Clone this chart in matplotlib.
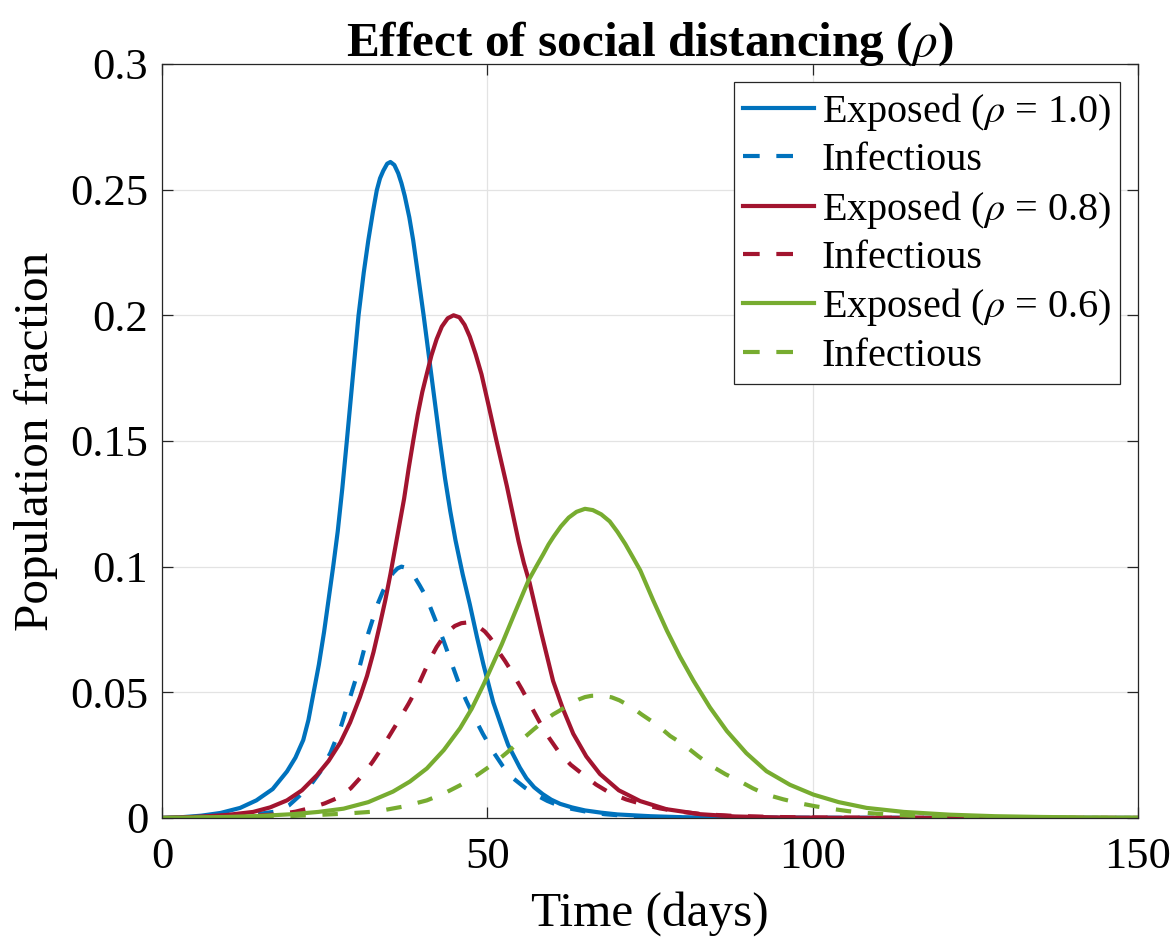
import matplotlib
matplotlib.use("Agg")
import matplotlib.pyplot as plt

plt.rcParams["font.family"] = ["Liberation Serif", "DejaVu Serif"]
plt.rcParams["mathtext.fontset"] = "stix"

# exposed / infectious fractions per social-distancing level (time in days)
t_e10 = [0, 3, 6, 9, 12, 14.5, 17, 19.2, 20.5, 21.7, 22.5, 23.3, 24.1, 24.9, 25.6, 26.3,
         27.0, 27.7, 28.4, 29.3, 30.2, 31.0, 31.7, 32.4, 33.0, 33.5, 34.0, 34.6, 35.1, 35.7,
         36.3, 36.8, 37.3, 38.0, 38.6, 39.4, 40.2, 41.0, 41.8, 42.7, 43.5, 44.3, 45.1, 46.2,
         47.3, 48.4, 49.4, 50.2, 50.9, 51.7, 52.5, 53.2, 54.0, 55.0, 56.0, 57.2, 58.5, 59.8,
         61.2, 63, 65, 67.5, 70, 75, 80, 85, 90, 100, 150]
e10 = [0, 0.0003, 0.0009, 0.002, 0.004, 0.007, 0.0115, 0.0185, 0.024, 0.031, 0.039, 0.05,
       0.061, 0.074, 0.087, 0.1, 0.114, 0.131, 0.15, 0.175, 0.2, 0.217, 0.2298, 0.241, 0.2497,
       0.2545, 0.2575, 0.2603, 0.261, 0.2598, 0.2565, 0.2525, 0.2475, 0.239, 0.2298, 0.215,
       0.2, 0.184, 0.168, 0.15, 0.135, 0.122, 0.1105, 0.097, 0.085, 0.072, 0.061, 0.053,
       0.046, 0.04, 0.034, 0.029, 0.025, 0.02, 0.0158, 0.0122, 0.0095, 0.0073, 0.0056,
       0.0042, 0.003, 0.0021, 0.0014, 0.0007, 0.0003, 0.00015, 0.0001, 0, 0]

t_i10 = [0, 5, 10, 14, 17.6, 19.5, 21.2, 22.8, 24.3, 25.9, 27.4, 28.9, 30.4, 31.7, 32.5,
         33.2, 34.0, 34.8, 35.5, 36.2, 36.8, 37.5, 38.2, 38.9, 39.6, 40.3, 41.2, 42.2, 43.2,
         44.3, 45.5, 46.7, 47.8, 49.3, 50.9, 52.4, 54.0, 55.8, 57.6, 59.2, 60.9, 63, 65, 68,
         71, 75, 80, 90, 150]
i10 = [0, 0.0002, 0.0006, 0.0013, 0.0026, 0.005, 0.009, 0.013, 0.0183, 0.026, 0.0356, 0.048,
       0.0605, 0.0735, 0.08, 0.0855, 0.0905, 0.0945, 0.0975, 0.0993, 0.1, 0.0995, 0.0978,
       0.0955, 0.0925, 0.0893, 0.084, 0.0775, 0.071, 0.063, 0.0544, 0.047, 0.041, 0.0335,
       0.0263, 0.0205, 0.0157, 0.012, 0.009, 0.0068, 0.005, 0.0036, 0.0026, 0.0015, 0.0009,
       0.0005, 0.0002, 0.0001, 0]

t_e08 = [0, 4, 7, 10, 14, 16.6, 19.2, 21.5, 23.8, 25.6, 27.4, 28.9, 30.4, 31.5, 32.5, 33.4,
         34.3, 35.1, 35.8, 36.5, 37.2, 37.9, 38.6, 39.3, 40.0, 40.7, 41.4, 42.2, 43.0, 43.9,
         44.8, 45.7, 46.5, 47.3, 48.2, 49.1, 50.2, 51.4, 52.2, 53.0, 53.9, 54.8, 55.6, 56.5,
         57.4, 58.3, 59.2, 60.1, 61.6, 63.2, 65.2, 67.3, 70.2, 73.5, 77.5, 82.7, 88, 95, 105,
         150]
e08 = [0, 0.0003, 0.0007, 0.0012, 0.0024, 0.0042, 0.007, 0.011, 0.017, 0.0227, 0.030, 0.038,
       0.048, 0.0565, 0.066, 0.076, 0.0865, 0.097, 0.107, 0.117, 0.127, 0.139, 0.15, 0.1605,
       0.1695, 0.1768, 0.184, 0.1905, 0.1955, 0.1988, 0.2, 0.1992, 0.1962, 0.1915, 0.1845,
       0.1765, 0.164, 0.15, 0.141, 0.132, 0.121, 0.11, 0.1015, 0.0935, 0.0835, 0.0735,
       0.064, 0.0545, 0.0435, 0.0335, 0.0245, 0.0175, 0.011, 0.0067, 0.0035, 0.0015, 0.0006,
       0.0002, 0.00005, 0]

t_i08 = [0, 5, 10, 14, 18, 20.5, 22.7, 25, 27.0, 29.0, 31.0, 32.4, 33.8, 35.2, 36.6, 37.9,
         39.1, 40.2, 41.2, 42.2, 43.2, 44.1, 45.0, 46.0, 47.0, 47.9, 48.7, 49.6, 50.4, 51.2,
         51.9, 52.7, 53.5, 54.4, 55.3, 56.7, 58.1, 59.5, 61.0, 62.8, 64.7, 66.7, 68.8, 71.3,
         74.0, 76.5, 79.1, 83, 88, 94, 100, 110, 150]
i08 = [0, 0.0001, 0.0003, 0.0008, 0.0015, 0.0025, 0.0039, 0.0058, 0.008, 0.0118, 0.0175,
       0.0225, 0.0279, 0.0338, 0.0398, 0.0455, 0.0512, 0.0575, 0.0632, 0.068, 0.0718,
       0.0745, 0.0764, 0.0775, 0.0778, 0.0772, 0.076, 0.0742, 0.0718, 0.0688, 0.0655,
       0.0625, 0.0592, 0.0552, 0.0512, 0.0445, 0.0378, 0.0318, 0.0262, 0.0212, 0.0173,
       0.0133, 0.010, 0.0074, 0.0053, 0.0038, 0.0027, 0.0015, 0.0008, 0.0004, 0.0002, 0.0001,
       0]

t_e06 = [0, 5, 10, 15, 20, 24, 27.9, 31.7, 35.5, 38.1, 40.7, 43.3, 45.8, 47.6, 49.4, 50.8,
         52.2, 54.2, 56.3, 57.5, 58.6, 59.4, 60.2, 61.3, 62.5, 63.7, 65.0, 66.2, 67.5, 68.8,
         70.0, 71.2, 72.3, 73.5, 75.5, 77.6, 79.6, 81.7, 84.2, 86.8, 89.8, 92.9, 96.5, 100.1,
         104, 108.3, 114, 121.1, 128, 135, 142, 150]
e06 = [0, 0.0002, 0.0004, 0.0008, 0.0015, 0.0024, 0.0037, 0.0063, 0.0105, 0.0145, 0.0197,
       0.027, 0.0357, 0.0435, 0.053, 0.061, 0.069, 0.0815, 0.0944, 0.1, 0.105, 0.1088, 0.112,
       0.116, 0.1195, 0.1218, 0.123, 0.1225, 0.1208, 0.118, 0.1138, 0.109, 0.104, 0.0985,
       0.0865, 0.0745, 0.0642, 0.0545, 0.044, 0.0346, 0.0258, 0.0186, 0.0132, 0.0093, 0.0063,
       0.004, 0.0024, 0.0013, 0.0007, 0.0004, 0.0002, 0.0001]

t_i06 = [0, 5, 10, 15, 20, 24, 28, 33, 37, 40.7, 43.3, 45.8, 48.4, 50.9, 53.0, 55.0, 57.1,
         58.6, 60.1, 61.1, 62.0, 63.0, 64.0, 65.0, 66.0, 67.5, 69.1, 70.3, 71.4, 72.6, 73.7,
         76.0, 78.1, 80.1, 82.4, 84.5, 86.6, 88.8, 90.8, 92.9, 95.5, 98.1, 100.5, 103, 105.5,
         108.3, 111.5, 115, 120, 125, 135, 150]
i06 = [0, 0.0001, 0.0002, 0.0004, 0.0008, 0.0012, 0.0017, 0.0026, 0.0045, 0.007, 0.0097,
       0.013, 0.017, 0.0215, 0.026, 0.0305, 0.0352, 0.0384, 0.0412, 0.0427, 0.0442, 0.0458,
       0.0471, 0.0481, 0.0486, 0.0487, 0.048, 0.0468, 0.0452, 0.0433, 0.0412, 0.0372, 0.0326,
       0.0293, 0.0246, 0.0206, 0.0174, 0.0146, 0.0118, 0.0093, 0.0074, 0.0058, 0.0046,
       0.0036, 0.0027, 0.002, 0.0014, 0.0009, 0.0005, 0.0003, 0.0001, 0]

rho_labels = ["1.0", "0.8", "0.6"]
colors = ["#0072BD", "#A2142F", "#77AC30"]

fig = plt.figure(figsize=(11.76, 9.39), dpi=100)
ax = fig.add_axes([0.1378, 0.1289, 0.8299, 0.8030])

series = [(t_e10, e10, t_i10, i10), (t_e08, e08, t_i08, i08), (t_e06, e06, t_i06, i06)]
for (te, e, ti, inf), rho, c in zip(series, rho_labels, colors):
    ax.plot(te, e, color=c, lw=3.0, solid_joinstyle="round",
            label="Exposed ($\\rho$ = %s)" % rho)
    ax.plot(ti, inf, color=c, lw=3.0, dashes=(3.7, 4.0), label="Infectious")

ax.set_xlim(0, 150)
ax.set_ylim(0, 0.3)
ax.set_xticks([0, 50, 100, 150])
ax.set_yticks([0, 0.05, 0.1, 0.15, 0.2, 0.25, 0.3])
ax.set_yticklabels(["0", "0.05", "0.1", "0.15", "0.2", "0.25", "0.3"])
ax.grid(True, color="#e3e3e3", lw=0.9)
ax.set_axisbelow(True)
ax.tick_params(direction="in", length=8, width=0.9, color="#262626", labelsize=32,
               top=True, right=True)
ax.tick_params(axis="x", pad=14)
ax.tick_params(axis="y", pad=10)
for sp in ax.spines.values():
    sp.set_color("#262626")
    sp.set_linewidth(0.9)

ax.set_xlabel("Time (days)", fontsize=35.5, labelpad=10)
ax.set_ylabel("Population fraction", fontsize=35.5, labelpad=9)
ax.set_title("Effect of social distancing ($\\rho$)", fontsize=35.5, fontweight="bold", pad=6)

leg = ax.legend(loc="upper right", fontsize=29, frameon=True, fancybox=False,
                handlelength=1.75, handletextpad=0.2, labelspacing=0.23,
                borderpad=0.22, borderaxespad=0.45, framealpha=1)
leg.get_frame().set_edgecolor("#262626")
leg.get_frame().set_linewidth(0.9)
# two clean dashes in the legend keys of the infectious lines
for h in leg.get_lines()[1::2]:
    h.set_dashes((4.0, 4.0, 4.0, 8.0))

fig.savefig("out.png", dpi=100)
